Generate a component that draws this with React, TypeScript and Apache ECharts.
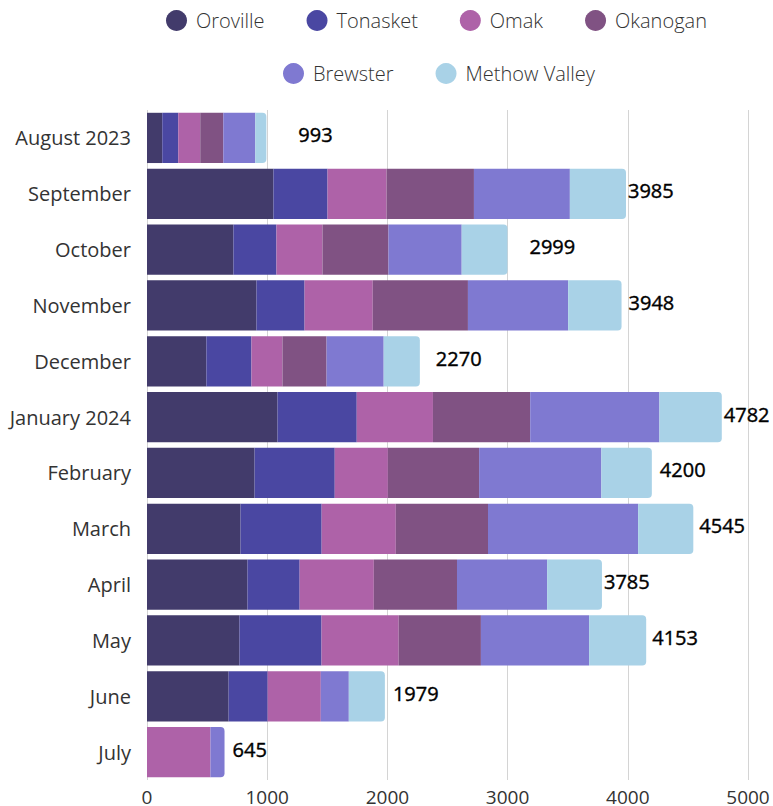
import React, { useEffect, useRef } from "react";
import * as echarts from "echarts";

const months = [
  "August 2023", "September", "October", "November", "December", "January 2024",
  "February", "March", "April", "May", "June", "July",
];
const oroville = [127, 1052, 719, 911, 494, 1086, 895, 778, 836, 769, 679, 0];
const tonasket = [133, 450, 358, 400, 375, 659, 667, 675, 434, 683, 325, 0];
const omak = [183, 491, 383, 567, 258, 634, 442, 617, 617, 642, 442, 528];
const okanogan = [192, 727, 549, 792, 367, 809, 759, 767, 692, 684, 0, 0];
const brewster = [266, 798, 609, 834, 475, 1075, 1017, 1249, 750, 900, 233, 117];
const methowValley = [92, 467, 381, 444, 301, 519, 420, 459, 456, 475, 300, 0];
const totals = [993, 3985, 2999, 3948, 2270, 4782, 4200, 4545, 3785, 4153, 1979, 645];
const xTicks = [0, 1000, 2000, 3000, 4000, 5000];

const seriesNames = ["Oroville", "Tonasket", "Omak", "Okanogan", "Brewster", "Methow Valley"];
const seriesValues = [oroville, tonasket, omak, okanogan, brewster, methowValley];
const colors = ["#423b6b", "#4a47a2", "#ae62a8", "#805283", "#7f79d1", "#a9d2e7"];

export default function App() {
  const ref = useRef<HTMLDivElement>(null);
  useEffect(() => {
    if (!ref.current) return;
    const chart = echarts.init(ref.current, null, { renderer: "svg" });
    const font = "'Open Sans', sans-serif";
    const labelDistance = [32, 2, 22, 7, 16, 2, 8, 6, 2, 6, 8, 8];

    // last non-zero segment per row gets rounded right corners
    const lastIdx = months.map((_, r) => {
      let li = 0;
      seriesValues.forEach((vals, s) => { if (vals[r] > 0) li = s; });
      return li;
    });

    const barSeries: any[] = seriesNames.map((name, s) => ({
      name,
      type: "bar",
      stack: "total",
      barCategoryGap: "10%",
      itemStyle: { color: colors[s] },
      data: seriesValues[s].map((v, r) => ({
        value: v,
        itemStyle: lastIdx[r] === s ? { borderRadius: [0, 4, 4, 0] } : undefined,
      })),
    }));

    barSeries.push({
      name: "Total",
      type: "bar",
      stack: "total",
      barCategoryGap: "10%",
      itemStyle: { color: "transparent" },
      data: totals.map((_, r) => ({
        value: 0,
        label: {
          show: true,
          position: "right",
          distance: labelDistance[r],
          offset: [0, -3],
          formatter: () => String(totals[r]),
          fontFamily: font,
          fontSize: 20,
          fontWeight: 500,
          color: "#000",
          textBorderColor: "#000",
          textBorderWidth: 0.4,
        },
      })),
    });

    const legendBase = {
      icon: "circle",
      itemWidth: 21,
      itemHeight: 21,
      itemGap: 42,
      padding: 0,
      orient: "horizontal",
      textStyle: { fontFamily: font, fontSize: 20, fontWeight: 300, color: "#333", padding: [0, 0, 0, 4] },
      selectedMode: false,
    };

    chart.setOption({
      animation: false,
      color: colors,
      legend: [
        { ...legendBase, data: seriesNames.slice(0, 4), left: 166, top: 10 },
        { ...legendBase, data: seriesNames.slice(4), left: 283, top: 63 },
      ],
      grid: { left: 147, right: 25, top: 110, bottom: 26, containLabel: false },
      xAxis: {
        type: "value",
        min: xTicks[0],
        max: xTicks[xTicks.length - 1],
        interval: xTicks[1] - xTicks[0],
        axisLine: { show: false },
        axisTick: { show: false },
        splitLine: { show: true, lineStyle: { color: "#d4d4d4", width: 1 } },
        axisLabel: {
          fontFamily: font, fontSize: 19, color: "#333", margin: 7,
          formatter: (v: number) => String(v),
        },
      },
      yAxis: {
        type: "category",
        inverse: true,
        data: months,
        axisLine: { show: false },
        axisTick: { show: false },
        axisLabel: { fontFamily: font, fontSize: 20, color: "#333", margin: 16 },
      },
      series: barSeries,
    });
    return () => chart.dispose();
  }, []);
  return (
    <div
      ref={ref}
      style={{ position: "fixed", left: 0, top: 0, width: 773, height: 806, background: "#fff" }}
    />
  );
}
